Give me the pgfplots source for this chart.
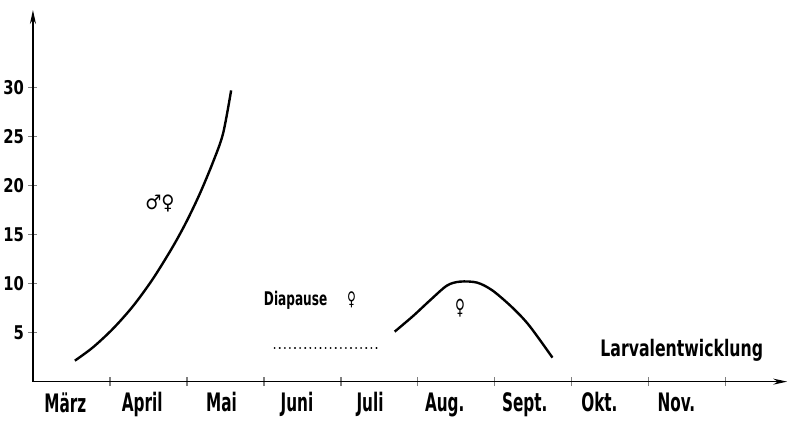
\documentclass[border=0pt]{standalone}
\usepackage{pgfplots}
\pgfplotsset{compat=1.18}
\usetikzlibrary{arrows.meta}
\usepackage{graphicx}
\usepackage{fontspec}
\setmainfont{DejaVu Sans Condensed}
\newcommand{\tall}[2][1.4]{\scalebox{1}[#1]{#2}}
\begin{document}
\begin{tikzpicture}
\begin{axis}[
  scale only axis,
  width=753bp, height=371bp,
  xmin=0, xmax=9.8, ymin=0, ymax=37.9,
  axis x line=bottom, axis y line=left,
  axis line style={line width=1.6pt, -{Stealth[length=14pt,width=6pt]}},
  xtick={0.42,1.42,2.45,3.43,4.38,5.35,6.39,7.36,8.36},
  xticklabels={\tall[1.5]{März},\tall[1.5]{April},\tall[1.5]{Mai},\tall[1.5]{Juni},\tall[1.5]{Juli},\tall[1.5]{Aug.},\tall[1.5]{Sept.},\tall[1.5]{Okt.},\tall[1.5]{Nov.}},
  minor xtick={1,2,3,4,5,6,7,8,9},
  major x tick style={draw=none},
  minor x tick style={line width=1.4pt},
  minor tick length=9pt,
  ytick={5,10,15,20,25,30},
  yticklabels={\tall[1.15]{5},\tall[1.15]{10},\tall[1.15]{15},\tall[1.15]{20},\tall[1.15]{25},\tall[1.15]{30}},
  major y tick style={line width=1.2pt},
  major tick length=9pt,
  tick align=center,
  ticklabel style={font=\fontsize{16.5}{16.5}\selectfont\bfseries},
  xticklabel style={font=\fontsize{17}{17}\selectfont\bfseries, yshift=-3pt},
  yticklabel style={xshift=-1pt},
  clip=false,
]
\addplot[black, line width=2.4pt, smooth] coordinates {
  (0.545,2.14) (0.78,3.5) (1.04,5.4) (1.30,7.7) (1.56,10.5) (1.82,13.8)
  (2.0,16.4) (2.17,19.2) (2.34,22.4) (2.47,25.3) (2.575,29.7)
};
\addplot[black, line width=2pt, line cap=round, dash pattern=on 0.1pt off 5pt] coordinates {
  (3.14,3.4) (4.51,3.4)
};
\addplot[black, line width=2.4pt, smooth] coordinates {
  (4.70,5.1) (4.94,6.7) (5.16,8.3) (5.38,9.8) (5.55,10.2) (5.77,10.1)
  (5.97,9.3) (6.23,7.55) (6.45,5.7) (6.75,2.45)
};
\node[font=\fontsize{20}{20}\selectfont\bfseries] at (axis cs:1.65,18.2) {♂♀};
\node[font=\fontsize{13.5}{13.5}\selectfont\bfseries] at (axis cs:3.6,8.3) {\tall{Diapause\hspace{20pt}♀}};
\node[font=\fontsize{15}{15}\selectfont\bfseries] at (axis cs:5.55,7.5) {\tall{♀}};
\node[font=\fontsize{17.5}{17.5}\selectfont\bfseries] at (axis cs:8.43,3.2) {\tall[1.3]{Larvalentwicklung}};
\path ([yshift=10bp]current axis.north west) ([yshift=-36bp]current axis.south east);
\end{axis}
\end{tikzpicture}
\end{document}
